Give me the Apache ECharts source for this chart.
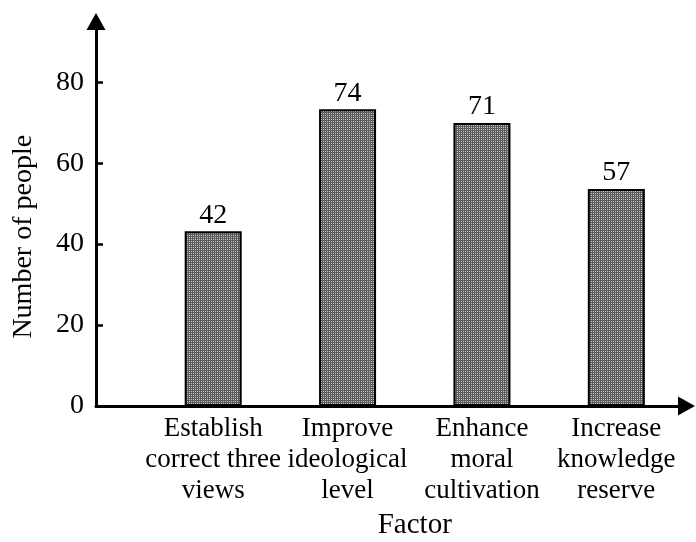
<!DOCTYPE html>
<html>
<head>
<meta charset="utf-8">
<script src="https://cdn.jsdelivr.net/npm/echarts@6/dist/echarts.min.js"></script>
<style>
  html, body { margin: 0; padding: 0; background: #fff; }
  #main { width: 696px; height: 542px; }
</style>
</head>
<body>
<div id="main"></div>
<script>
// categories on the x axis
var factors = [
  'Establish\ncorrect three\nviews',
  'Improve\nideological\nlevel',
  'Enhance\nmoral\ncultivation',
  'Increase\nknowledge\nreserve'
];
// bar heights as drawn, and the numbers printed above them
var barHeights = [43.2, 73.3, 69.9, 53.6];
var barLabels = [42, 74, 71, 57];
var yTicks = [0, 20, 40, 60, 80];

var serif = 'Liberation Serif';

// small dotted tile for the bar fill
function makeTile() {
  var c = document.createElement('canvas');
  c.width = 2; c.height = 2;
  var ctx = c.getContext('2d');
  ctx.fillStyle = '#5c5c5c';
  ctx.fillRect(0, 0, 2, 2);
  ctx.fillStyle = '#c4c4c4';
  ctx.fillRect(1, 1, 1, 1);
  return c;
}

var myChart = echarts.init(document.getElementById('main'));

var option = {
  animation: false,
  backgroundColor: '#fff',
  grid: [
    // axes with arrows
    { left: 96, right: 9.5, top: 21.5, bottom: 136, outerBoundsMode: 'none' },
    // bars
    { left: 146, right: 12.5, top: 21.5, bottom: 136, outerBoundsMode: 'none' }
  ],
  xAxis: [
    {
      gridIndex: 0,
      type: 'value',
      min: 0,
      max: 1,
      axisLine: {
        show: true,
        symbol: ['none', 'triangle'],
        symbolSize: [19, 17],
        lineStyle: { color: '#000', width: 3 }
      },
      axisTick: { show: false },
      axisLabel: { show: false },
      splitLine: { show: false }
    },
    {
      gridIndex: 1,
      type: 'category',
      data: factors,
      axisLine: { show: false },
      axisTick: { show: false },
      axisLabel: {
        interval: 0,
        margin: 7,
        color: '#000',
        fontFamily: serif,
        fontSize: 27,
        lineHeight: 31
      },
      name: 'Factor',
      nameLocation: 'middle',
      nameGap: 95,
      nameTextStyle: { color: '#000', fontFamily: serif, fontSize: 29 }
    }
  ],
  yAxis: [
    {
      gridIndex: 0,
      type: 'value',
      min: 0,
      max: 95,
      axisLine: {
        show: true,
        symbol: ['none', 'triangle'],
        symbolSize: [19, 17],
        lineStyle: { color: '#000', width: 3 }
      },
      axisTick: {
        show: true,
        inside: true,
        length: 7,
        customValues: yTicks,
        lineStyle: { color: '#000', width: 2.5 }
      },
      axisLabel: {
        customValues: yTicks,
        margin: 12,
        color: '#000',
        fontFamily: serif,
        fontSize: 28
      },
      splitLine: { show: false },
      name: 'Number of people',
      nameLocation: 'middle',
      nameRotate: 90,
      nameGap: 58,
      nameTextStyle: {
        color: '#000',
        fontFamily: serif,
        fontSize: 28,
        padding: [0, 46, 0, 0]
      }
    },
    {
      gridIndex: 1,
      type: 'value',
      min: 0,
      max: 95,
      show: false
    }
  ],
  series: [
    {
      type: 'bar',
      xAxisIndex: 1,
      yAxisIndex: 1,
      data: barHeights,
      barWidth: 57,
      itemStyle: {
        color: { image: makeTile(), repeat: 'repeat' },
        borderColor: '#000',
        borderWidth: 2
      },
      label: {
        show: true,
        position: 'top',
        distance: 2,
        color: '#000',
        fontFamily: serif,
        fontSize: 28,
        formatter: function (p) { return barLabels[p.dataIndex]; }
      }
    }
  ]
};

myChart.setOption(option);
</script>
</body>
</html>
